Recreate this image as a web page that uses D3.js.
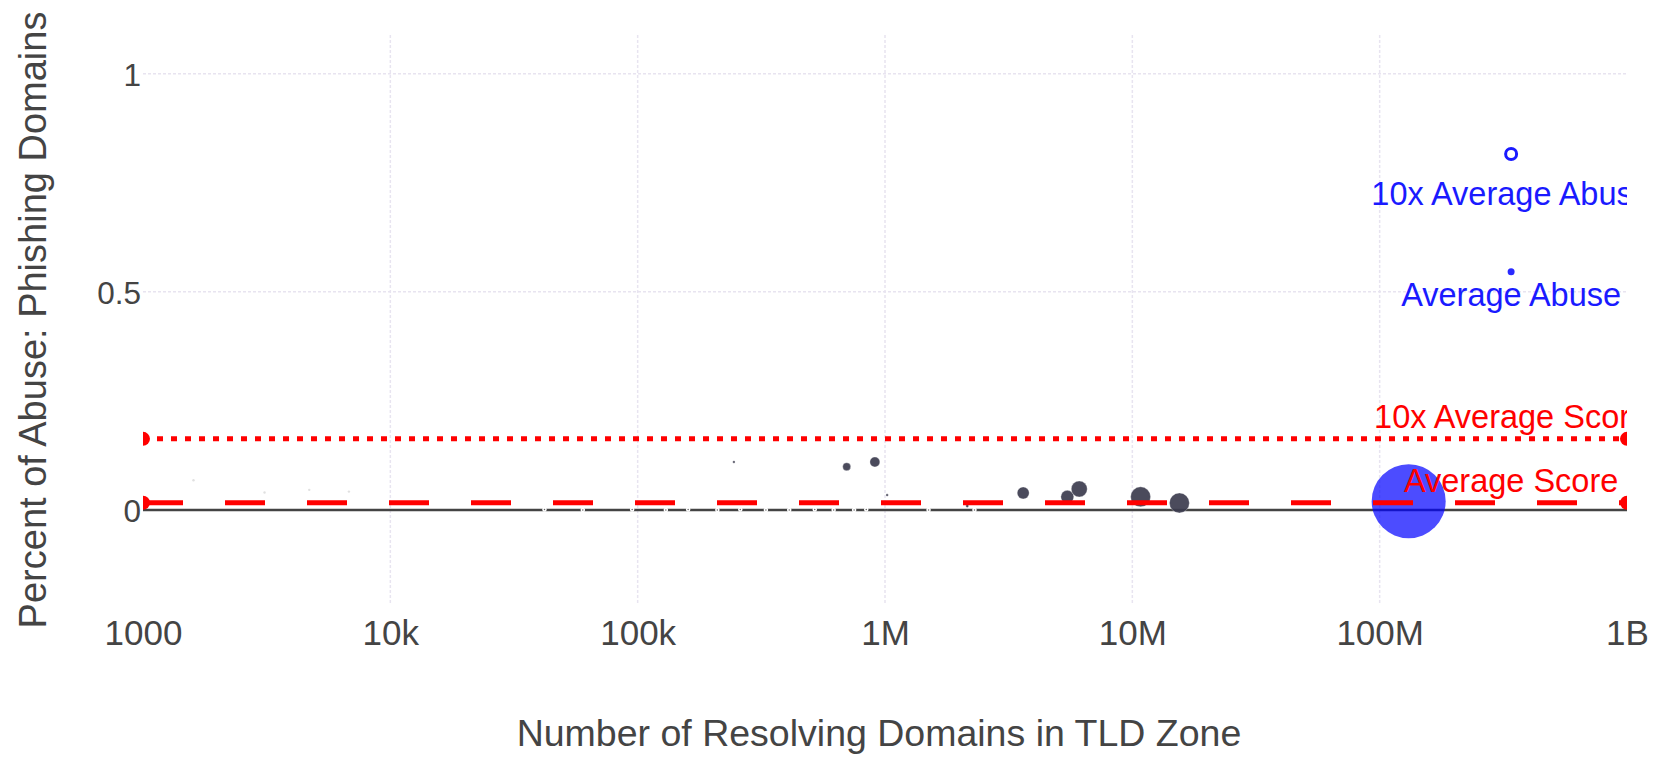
<!DOCTYPE html>
<html>
<head>
<meta charset="utf-8">
<script src="https://cdn.jsdelivr.net/npm/d3@7"></script>
<style>
  html, body { margin: 0; padding: 0; background: #fff; }
  svg { display: block; font-family: "Liberation Sans", Arial, Helvetica, sans-serif; }
</style>
</head>
<body>
<svg id="chart" width="1662" height="759"></svg>
<script>
// ---- data ----
const xTickValues = [1e3, 1e4, 1e5, 1e6, 1e7, 1e8, 1e9];
const xTickLabels = ["1000", "10k", "100k", "1M", "10M", "100M", "1B"];
const yTickValues = [0, 0.5, 1];
const yTickLabels = ["0", "0.5", "1"];

// TLDs (dark bubbles): resolving domains, percent phishing, phishing-size
const tldDomains = [2.45e5, 7.0e5, 9.1e5, 1.02e6, 2.15e6, 3.62e6, 5.46e6, 6.1e6, 1.08e7, 1.55e7];
const tldPercent = [0.110, 0.099, 0.110, 0.034, 0.009, 0.039, 0.030, 0.048, 0.030, 0.016];
const tldSize    = [150, 1600, 2500, 150, 220, 3600, 4200, 6400, 10000, 10000];

// tiny TLDs lying on the zero line
const smallDomains = [4.2e4, 6.0e4, 9.5e4, 1.3e5, 1.6e5, 2.1e5, 2.6e5, 3.3e5, 4.1e5, 5.2e5, 6.2e5, 7.5e5, 8.4e5, 1.5e6, 2.3e6];
const smallPercent = [0.001, 0.0, 0.001, 0.0, 0.001, 0.0, 0.001, 0.0, 0.0, 0.001, 0.0, 0.0, 0.001, 0.0, 0.0];
const faintDomains = [1.6e3, 3.1e3, 4.7e3, 6.8e3, 1.1e4, 2.3e4];
const faintPercent = [0.068, 0.040, 0.046, 0.042, 0.018, 0.016];

// .com bubble
const comDomains = [1.31e8];
const comPercent = [0.02];
const comSize = [136900];

// reference lines
const avgScore = 0.0163;
const tenXAvgScore = 0.163;

// abuse markers
const abuseX = 3.4e8;
const abuseNames = ["10x Average Abuse", "Average Abuse"];
const abuseValues = [0.816, 0.546];
const abuseLabelY = [0.727, 0.495];
const scoreNames = ["10x Average Score", "Average Score"];
const scoreLabelY = [0.214, 0.069];

// ---- layout ----
const svg = d3.select("#chart");
const pL = 143, pR = 1627, pT = 35, pB = 605;

const x = d3.scaleLog().domain([1e3, 1e9]).range([pL, pR]);
const y = d3.scaleLinear().domain([-0.218, 1.089]).range([pB, pT]);
const r = d3.scaleSqrt().domain([0, d3.max(comSize)]).range([0, 37]);

svg.append("defs").append("clipPath").attr("id", "plotclip")
  .append("rect").attr("x", pL).attr("y", pT).attr("width", pR - pL).attr("height", pB - pT);

// grid
const grid = svg.append("g");
grid.selectAll("line.vx").data(xTickValues.slice(1, -1)).join("line")
  .attr("x1", d => x(d)).attr("x2", d => x(d))
  .attr("y1", pT).attr("y2", pB)
  .attr("stroke", "#e8e4f0").attr("stroke-width", 1.5).attr("stroke-dasharray", "3,2");
grid.selectAll("line.hy").data(yTickValues.filter(d => d !== 0)).join("line")
  .attr("x1", pL).attr("x2", pR)
  .attr("y1", d => y(d)).attr("y2", d => y(d))
  .attr("stroke", "#e8e4f0").attr("stroke-width", 1.5).attr("stroke-dasharray", "3,2");

// x axis labels
const xAxis = d3.axisBottom(x).tickValues(xTickValues)
  .tickFormat((d, i) => xTickLabels[i]).tickSize(0).tickPadding(0);
const gx = svg.append("g").attr("transform", `translate(0,${pB})`).call(xAxis);
gx.select(".domain").remove();
gx.selectAll("text").attr("font-size", 35).attr("fill", "#444")
  .attr("font-family", "Liberation Sans, Arial, sans-serif")
  .attr("y", 40).attr("dy", 0);

// y axis labels
const yAxis = d3.axisLeft(y).tickValues(yTickValues)
  .tickFormat((d, i) => yTickLabels[i]).tickSize(0).tickPadding(0);
const gy = svg.append("g").attr("transform", `translate(${pL - 2},0)`).call(yAxis);
gy.select(".domain").remove();
gy.selectAll("text").attr("font-size", 31.5).attr("fill", "#444")
  .attr("font-family", "Liberation Sans, Arial, sans-serif")
  .attr("dy", "0.36em");

// zero line
svg.append("line").attr("x1", pL).attr("x2", pR)
  .attr("y1", y(0)).attr("y2", y(0))
  .attr("stroke", "#444").attr("stroke-width", 2.5);

const plot = svg.append("g").attr("clip-path", "url(#plotclip)");

// faint tiny points
plot.selectAll("circle.faint").data(faintDomains).join("circle")
  .attr("cx", d => x(d)).attr("cy", (d, i) => y(faintPercent[i])).attr("r", 1.2)
  .attr("fill", "#ccc").attr("opacity", 0.6);

// tiny points on zero line (white outline)
plot.selectAll("circle.small").data(smallDomains).join("circle")
  .attr("cx", d => x(d)).attr("cy", (d, i) => y(smallPercent[i])).attr("r", 1.5)
  .attr("fill", "#666").attr("stroke", "#fff").attr("stroke-width", 1.5);

// TLD bubbles
plot.selectAll("circle.tld").data(tldDomains).join("circle")
  .attr("cx", d => x(d)).attr("cy", (d, i) => y(tldPercent[i]))
  .attr("r", (d, i) => Math.max(1.2, r(tldSize[i])))
  .attr("fill", "#3c3c4e").attr("fill-opacity", 0.92)
  .attr("stroke", "#fff").attr("stroke-width", 0.5).attr("stroke-opacity", 0.6);

// .com bubble
plot.selectAll("circle.com").data(comDomains).join("circle")
  .attr("cx", d => x(d)).attr("cy", (d, i) => y(comPercent[i]))
  .attr("r", (d, i) => r(comSize[i]))
  .attr("fill", "#0000ff").attr("fill-opacity", 0.7);

// reference lines
const refLines = [
  { v: tenXAvgScore, dash: "6,8", w: 5 },
  { v: avgScore, dash: "40,42", w: 5 }
];
refLines.forEach(l => {
  plot.append("line").attr("x1", pL).attr("x2", pR)
    .attr("y1", y(l.v)).attr("y2", y(l.v))
    .attr("stroke", "red").attr("stroke-width", l.w).attr("stroke-dasharray", l.dash);
  plot.selectAll(null).data([pL, pR]).join("circle")
    .attr("cx", d => d).attr("cy", y(l.v)).attr("r", 7).attr("fill", "red");
});

// abuse markers
plot.append("circle").attr("cx", x(abuseX)).attr("cy", y(abuseValues[0])).attr("r", 5.5)
  .attr("fill", "#fff").attr("stroke", "#1a1aff").attr("stroke-width", 3);
plot.append("circle").attr("cx", x(abuseX)).attr("cy", y(abuseValues[1])).attr("r", 3.5)
  .attr("fill", "#2a2aff");

// labels
plot.selectAll("text.abuse").data(abuseNames).join("text")
  .attr("x", x(abuseX)).attr("y", (d, i) => y(abuseLabelY[i]))
  .attr("dy", "0.36em").attr("text-anchor", "middle")
  .attr("font-size", 32.5).attr("fill", "#1a1aff").text(d => d);
plot.selectAll("text.score").data(scoreNames).join("text")
  .attr("x", x(abuseX)).attr("y", (d, i) => y(scoreLabelY[i]))
  .attr("dy", "0.36em").attr("text-anchor", "middle")
  .attr("font-size", 32.5).attr("fill", "red").text(d => d);

// axis titles
svg.append("text").attr("x", (pL + pR) / 2 - 6).attr("y", 746)
  .attr("text-anchor", "middle").attr("font-size", 37.5).attr("fill", "#444")
  .text("Number of Resolving Domains in TLD Zone");
svg.append("text").attr("transform", `translate(46,${320}) rotate(-90)`)
  .attr("text-anchor", "middle").attr("font-size", 38).attr("fill", "#444")
  .text("Percent of Abuse: Phishing Domains");
</script>
</body>
</html>
